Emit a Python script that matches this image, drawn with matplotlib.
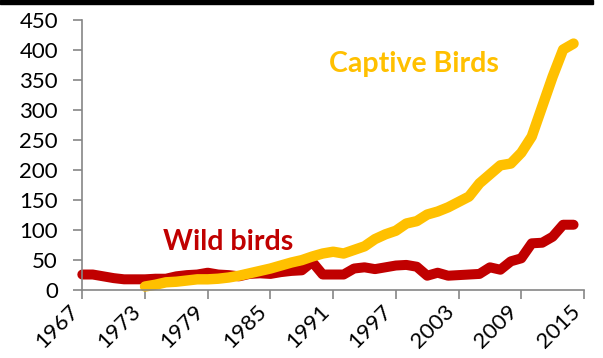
import matplotlib
matplotlib.use('Agg')
import matplotlib.pyplot as plt
from matplotlib.patches import Rectangle

plt.rcParams['font.family'] = ['Lato', 'DejaVu Sans']

wild_years = list(range(1967, 2015))
wild = [25, 25, 22, 19, 17, 17, 17, 18, 18, 22,
        24, 25, 28, 25, 24, 22, 26, 27, 26, 29,
        31, 32, 46, 25, 25, 25, 35, 37, 34, 37,
        40, 41, 38, 23, 28, 23, 24, 25, 26, 37,
        33, 47, 52, 77, 78, 88, 108, 108]

captive_years = list(range(1973, 2015))
captive = [5, 8, 12, 13, 15, 17, 17, 18, 20, 23,
           27, 31, 35, 40, 45, 49, 55, 60, 63, 60,
           66, 72, 84, 92, 98, 110, 114, 125, 130, 137,
           146, 155, 177, 192, 207, 210, 228, 255, 305, 355,
           400, 410]

xticks = list(range(1967, 2016, 6))
yticks = list(range(0, 451, 50))

red = '#C00000'
gold = '#FFC000'
grey = '#868686'

fig = plt.figure(figsize=(6.03, 3.58), dpi=100)
ax = fig.add_axes([0.1365, 0.1913, 0.832, 0.754])

ax.plot(wild_years, wild, color=red, lw=7.2, solid_capstyle='round',
        solid_joinstyle='round', clip_on=False)
ax.plot(captive_years, captive, color=gold, lw=7.5, solid_capstyle='round',
        solid_joinstyle='round', clip_on=False)

ax.set_xlim(1967, 2015)
ax.set_ylim(0, 450)
ax.set_xticks(xticks)
ax.set_yticks(yticks)
ax.set_xticklabels([str(t) for t in xticks], rotation=45, ha='right', va='top')

for s in ['top', 'right']:
    ax.spines[s].set_visible(False)
for s in ['left', 'bottom']:
    ax.spines[s].set_color(grey)
    ax.spines[s].set_linewidth(1.2)
ax.tick_params(axis='both', colors=grey, labelcolor='black', labelsize=16,
               length=6.5, width=1.2, direction='out')
ax.tick_params(axis='y', pad=11)
ax.tick_params(axis='x', pad=2)

fig.text(414 / 603, 1 - 64 / 358, 'Captive Birds', color=gold, fontsize=20.5,
         fontweight='bold', ha='center', va='center')
fig.text(228 / 603, 1 - 242 / 358, 'Wild birds', color=red, fontsize=20.5,
         fontweight='bold', ha='center', va='center')

# black strip along the top edge
fig.patches.append(Rectangle((0, 1 - 4 / 358), 593 / 603, 4 / 358,
                             transform=fig.transFigure, color='black'))

fig.savefig('out.png', dpi=100)
